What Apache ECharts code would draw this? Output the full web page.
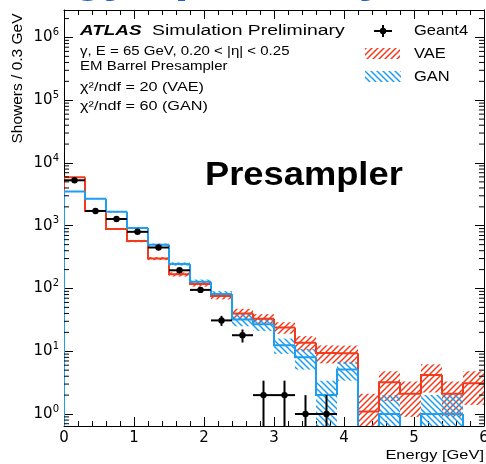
<!DOCTYPE html>
<html>
<head>
<meta charset="utf-8">
<script src="https://cdn.jsdelivr.net/npm/echarts@6/dist/echarts.min.js"></script>
<style>
  html, body { margin: 0; padding: 0; background: #fff; }
  #chart { width: 486px; height: 464px; }
</style>
</head>
<body>
<div id="chart"></div>
<script>
// bins of 0.3 GeV
const binStart = [0, 0.3, 0.6, 0.9, 1.2, 1.5, 1.8, 2.1, 2.4, 2.7, 3.0, 3.3, 3.6, 3.9, 4.2, 4.5, 4.8, 5.1, 5.4, 5.7]
const binWidth = 0.3

// Geant4 (points)
const g4Val = [5300, 1720, 1280, 800, 450, 195, 95, 31, 18, 2, 2, 1, 1, 0, 0, 0, 0, 0, 0, 0]
const g4Err = [73, 41, 36, 28, 21, 14, 10, 5.6, 4.2, 1.4, 1.4, 1, 1, 0, 0, 0, 0, 0, 0, 0]

// VAE (red)
const vaeVal = [5900, 1720, 890, 570, 300, 168, 118, 76, 40, 33, 24, 13.7, 9.4, 9.3, 1.1, 3.2, 2.1, 4.2, 2.1, 3.1]
const vaeErr = [80, 45, 32, 25, 17, 13, 11, 9, 7.5, 6, 5, 3.7, 3, 3, 1, 1.6, 1.2, 2, 1.2, 1.7]

// GAN (blue)
const ganVal = [3500, 2700, 1675, 920, 500, 246, 128, 82, 32, 27, 12.5, 8, 2, 5.1, 0, 1, 0, 1, 1, 0]
const ganErr = [60, 50, 40, 30, 22, 15, 11, 9, 7, 6, 3.4, 2.9, 1.4, 1.7, 0, 1, 0, 1, 1, 0]

const Y_MIN = 0.644
const Y_MAX = 2.74e6
const RED = '#f23a1c'
const BLUE = '#1e9ef0'
const FONT = '"Liberation Sans", Arial, sans-serif'
const TICK_FONT = '"DejaVu Sans", sans-serif'

// minor tick positions for the log axis (2..9 x 10^n)
const minorTicks = []
for (let n = -1; n <= 6; n++) {
  for (let k = 2; k <= 9; k++) minorTicks.push([0, k * Math.pow(10, n)])
}

function hatch(color, dir) {
  const s = 6
  const c = document.createElement('canvas')
  c.width = s
  c.height = s
  const g = c.getContext('2d')
  g.strokeStyle = color
  g.lineWidth = 1.5
  g.beginPath()
  if (dir > 0) {
    g.moveTo(-1, s + 1); g.lineTo(s + 1, -1)
    g.moveTo(-1, 1); g.lineTo(1, -1)
    g.moveTo(s - 1, s + 1); g.lineTo(s + 1, s - 1)
  } else {
    g.moveTo(-1, -1); g.lineTo(s + 1, s + 1)
    g.moveTo(s - 1, -1); g.lineTo(s + 1, 1)
    g.moveTo(-1, s - 1); g.lineTo(1, s + 1)
  }
  g.stroke()
  return { image: c, repeat: 'repeat' }
}

const redHatch = hatch(RED, 1)
const blueHatch = hatch(BLUE, -1)

const bandSeries = (name, vals, errs, fill) => ({
  type: 'custom',
  name,
  clip: true,
  z: 2,
  encode: { x: 0, y: 1 },
  data: binStart.map((x, i) => [x, vals[i], errs[i]]),
  renderItem: (params, api) => {
    const x0 = api.value(0)
    const v = api.value(1)
    const e = api.value(2)
    if (!(v > 0)) return null
    const lo = Math.max(v - e, Y_MIN / 2)
    const p0 = api.coord([x0, v + e])
    const p1 = api.coord([x0 + binWidth, lo])
    return {
      type: 'rect',
      shape: { x: p0[0], y: p0[1], width: p1[0] - p0[0], height: p1[1] - p0[1] },
      style: { fill }
    }
  }
})

const stepSeries = (name, vals, color) => ({
  type: 'custom',
  name,
  clip: true,
  z: 3,
  encode: { x: 0, y: 1 },
  data: binStart.map((x, i) => [x, vals[i], i > 0 ? vals[i - 1] : 0]),
  renderItem: (params, api) => {
    const x0 = api.value(0)
    const v = Math.max(api.value(1), Y_MIN / 2)
    const prev = Math.max(api.value(2), Y_MIN / 2)
    const a = api.coord([x0, prev])
    const b = api.coord([x0, v])
    const c = api.coord([x0 + binWidth, v])
    return {
      type: 'polyline',
      shape: { points: [a, b, c] },
      style: { stroke: color, lineWidth: 2, fill: null }
    }
  }
})

const g4Series = {
  type: 'custom',
  name: 'Geant4',
  clip: true,
  z: 4,
  encode: { x: 0, y: 1 },
  data: binStart.map((x, i) => [x + binWidth / 2, g4Val[i], g4Err[i]]).filter(d => d[1] > 0),
  renderItem: (params, api) => {
    const xc = api.value(0)
    const v = api.value(1)
    const e = api.value(2)
    const c = api.coord([xc, v])
    const l = api.coord([xc - binWidth / 2, v])
    const r = api.coord([xc + binWidth / 2, v])
    const top = api.coord([xc, v + e])
    const bot = api.coord([xc, Math.max(v - e, Y_MIN / 2)])
    return {
      type: 'group',
      children: [
        { type: 'line', shape: { x1: l[0], y1: c[1], x2: r[0], y2: c[1] }, style: { stroke: '#000', lineWidth: 2 } },
        { type: 'line', shape: { x1: c[0], y1: top[1], x2: c[0], y2: bot[1] }, style: { stroke: '#000', lineWidth: 2 } },
        { type: 'circle', shape: { cx: c[0], cy: c[1], r: 3.2 }, style: { fill: '#000' } }
      ]
    }
  }
}

const minorTickSeries = {
  type: 'custom',
  clip: true,
  z: 5,
  silent: true,
  encode: { x: 0, y: 1 },
  data: minorTicks,
  renderItem: (params, api) => {
    const v = api.value(1)
    const l = api.coord([0, v])
    const r = api.coord([6, v])
    return {
      type: 'group',
      children: [
        { type: 'line', shape: { x1: l[0], y1: l[1], x2: l[0] + 5, y2: l[1] }, style: { stroke: '#000', lineWidth: 1 } },
        { type: 'line', shape: { x1: r[0], y1: r[1], x2: r[0] - 5, y2: r[1] }, style: { stroke: '#000', lineWidth: 1 } }
      ]
    }
  }
}

const xAxisBase = {
  type: 'value',
  min: 0,
  max: 6,
  interval: 1,
  axisLine: { onZero: false, lineStyle: { color: '#000', width: 1 } },
  axisTick: { inside: true, length: 9, lineStyle: { color: '#000' } },
  minorTick: { show: true, splitNumber: 5, length: 5, lineStyle: { color: '#000' } },
  splitLine: { show: false },
  minorSplitLine: { show: false }
}

const yAxisBase = {
  type: 'log',
  logBase: 10,
  min: Y_MIN,
  max: Y_MAX,
  axisLine: { show: true, onZero: false, lineStyle: { color: '#000', width: 1 } },
  axisTick: { show: true, inside: true, length: 9, lineStyle: { color: '#000' } },
  minorTick: { show: false },
  splitLine: { show: false }
}

const chart = echarts.init(document.getElementById('chart'))
chart.setOption({
  animation: false,
  backgroundColor: '#fff',
  grid: { left: 64, right: 2, top: 10, bottom: 38, outerBoundsMode: 'none' },
  xAxis: [
    Object.assign({}, xAxisBase, {
      position: 'bottom',
      axisLabel: { color: '#000', fontSize: 15, fontFamily: TICK_FONT, margin: 5 }
    }),
    Object.assign({}, xAxisBase, { position: 'top', axisLabel: { show: false } })
  ],
  yAxis: [
    Object.assign({}, yAxisBase, {
      position: 'left',
      axisLabel: {
        margin: 5,
        formatter: v => {
          const e = Math.log10(v)
          const n = Math.round(e)
          if (Math.abs(e - n) > 1e-6) return ''
          return '{b|10}{s|' + n + '}'
        },
        rich: {
          b: { fontSize: 15, fontFamily: TICK_FONT, color: '#000', lineHeight: 20 },
          s: { fontSize: 10, fontFamily: TICK_FONT, color: '#000', lineHeight: 10, verticalAlign: 'top' }
        }
      }
    }),
    Object.assign({}, yAxisBase, { position: 'right', axisLabel: { show: false } })
  ],
  series: [
    bandSeries('VAE band', vaeVal, vaeErr, redHatch),
    bandSeries('GAN band', ganVal, ganErr, blueHatch),
    stepSeries('VAE', vaeVal, RED),
    stepSeries('GAN', ganVal, BLUE),
    g4Series,
    minorTickSeries
  ],
  graphic: [
    // slide title, mostly cut off at the top
    { type: 'text', x: -41, y: -24, style: { text: 'Energy spread by', fontSize: 51, fontWeight: 'bold', fontFamily: FONT, fill: '#1d5fd8', verticalAlign: 'middle' } },
    // axis titles
    { type: 'text', x: 17.5, y: 78.5, rotation: Math.PI / 2, style: { text: 'Showers / 0.3 GeV', fontSize: 15.5, fontFamily: FONT, fill: '#000', align: 'center', verticalAlign: 'middle' } },
    { type: 'text', x: 484, y: 455, scaleX: 1.2, style: { text: 'Energy [GeV]', fontSize: 13.7, fontFamily: FONT, fill: '#000', align: 'right', verticalAlign: 'middle' } },
    // labels
    { type: 'text', x: 80, y: 30.5, scaleX: 1.22, style: { text: 'ATLAS', fontSize: 15.5, fontWeight: 'bold', fontStyle: 'italic', fontFamily: FONT, fill: '#000', verticalAlign: 'middle' } },
    { type: 'text', x: 152, y: 30.5, scaleX: 1.25, style: { text: 'Simulation Preliminary', fontSize: 15.5, fontFamily: FONT, fill: '#000', verticalAlign: 'middle' } },
    { type: 'text', x: 80, y: 51.5, scaleX: 1.2, style: { text: 'γ, E = 65 GeV, 0.20 < |η| < 0.25', fontSize: 12.5, fontFamily: FONT, fill: '#000', verticalAlign: 'middle' } },
    { type: 'text', x: 80, y: 67, scaleX: 1.2, style: { text: 'EM Barrel Presampler', fontSize: 12.5, fontFamily: FONT, fill: '#000', verticalAlign: 'middle' } },
    { type: 'text', x: 80, y: 87, scaleX: 1.2, style: { text: 'χ²/ndf = 20 (VAE)', fontSize: 13.5, fontFamily: FONT, fill: '#000', verticalAlign: 'middle' } },
    { type: 'text', x: 80, y: 106, scaleX: 1.2, style: { text: 'χ²/ndf = 60 (GAN)', fontSize: 13.5, fontFamily: FONT, fill: '#000', verticalAlign: 'middle' } },
    { type: 'text', x: 205, y: 175.5, scaleX: 1.1, style: { text: 'Presampler', fontSize: 33, fontWeight: 'bold', fontFamily: FONT, fill: '#000', verticalAlign: 'middle' } },
    // legend
    { type: 'line', shape: { x1: 374, y1: 31, x2: 392, y2: 31 }, style: { stroke: '#000', lineWidth: 2 } },
    { type: 'line', shape: { x1: 383, y1: 25, x2: 383, y2: 37 }, style: { stroke: '#000', lineWidth: 2 } },
    { type: 'circle', shape: { cx: 383, cy: 31, r: 3.2 }, style: { fill: '#000' } },
    { type: 'text', x: 414, y: 31, scaleX: 1.1, style: { text: 'Geant4', fontSize: 15, fontFamily: FONT, fill: '#000', verticalAlign: 'middle' } },
    { type: 'rect', shape: { x: 365, y: 48, width: 35, height: 11 }, style: { fill: redHatch } },
    { type: 'text', x: 414, y: 53.5, scaleX: 1.1, style: { text: 'VAE', fontSize: 15, fontFamily: FONT, fill: '#000', verticalAlign: 'middle' } },
    { type: 'rect', shape: { x: 365, y: 71, width: 36, height: 11 }, style: { fill: blueHatch } },
    { type: 'text', x: 414, y: 77, scaleX: 1.1, style: { text: 'GAN', fontSize: 15, fontFamily: FONT, fill: '#000', verticalAlign: 'middle' } }
  ]
})
</script>
</body>
</html>
